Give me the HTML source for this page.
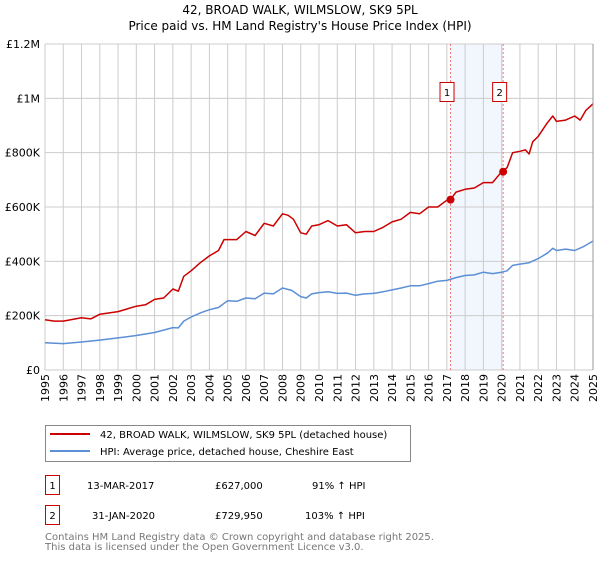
<!DOCTYPE html>
<html><head><meta charset="utf-8"><style>
body{margin:0;background:#fff;font-family:"Liberation Sans","DejaVu Sans",sans-serif;}
svg text{font-family:"DejaVu Sans","Liberation Sans",sans-serif;}
</style></head><body>
<svg id="chart" width="600" height="560" xmlns="http://www.w3.org/2000/svg">
<text x="300" y="14" text-anchor="middle" font-size="12">42, BROAD WALK, WILMSLOW, SK9 5PL</text>
<text x="300" y="30" text-anchor="middle" font-size="12">Price paid vs. HM Land Registry's House Price Index (HPI)</text>
<g id="grid"></g><g id="marks"></g><g id="axes"></g>
<rect x="45.5" y="425.5" width="365" height="36" fill="#fff" stroke="#888"/>
<line x1="50" y1="434" x2="90" y2="434" stroke="#cc0000" stroke-width="2"/>
<text x="100" y="438" font-size="10">42, BROAD WALK, WILMSLOW, SK9 5PL (detached house)</text>
<line x1="50" y1="451" x2="90" y2="451" stroke="#5b8fd6" stroke-width="2"/>
<text x="100" y="455" font-size="10">HPI: Average price, detached house, Cheshire East</text>
<g font-size="10">
<rect x="45.5" y="475.5" width="14" height="19" fill="#fff" stroke="#cc0000"/>
<text x="52.5" y="489" text-anchor="middle">1</text>
<text x="87" y="489">13-MAR-2017</text><text x="215" y="489">£627,000</text><text x="312" y="489">91% ↑ HPI</text></g>
<g font-size="10">
<rect x="45.5" y="505.5" width="14" height="19" fill="#fff" stroke="#cc0000"/>
<text x="52.5" y="519" text-anchor="middle">2</text>
<text x="92" y="519">31-JAN-2020</text><text x="215" y="519">£729,950</text><text x="305" y="519">103% ↑ HPI</text></g>
<text x="45" y="540" font-size="10" fill="#777">Contains HM Land Registry data © Crown copyright and database right 2025.</text>
<text x="45" y="550" font-size="10" fill="#777">This data is licensed under the Open Government Licence v3.0.</text>
</svg>
<script>
const yTicks=[0,200000,400000,600000,800000,1000000,1200000];
const yTickLabels=["£0","£200K","£400K","£600K","£800K","£1M","£1.2M"];
const xYears=[1995,1996,1997,1998,1999,2000,2001,2002,2003,2004,2005,2006,2007,2008,2009,2010,2011,2012,2013,2014,2015,2016,2017,2018,2019,2020,2021,2022,2023,2024,2025];
const propT=[1995,1995.5,1996,1997,1997.5,1998,1999,2000,2000.5,2001,2001.5,2002,2002.3,2002.6,2003,2003.5,2004,2004.5,2004.8,2005,2005.5,2006,2006.5,2007,2007.5,2008,2008.3,2008.6,2009,2009.3,2009.6,2010,2010.5,2011,2011.5,2012,2012.5,2013,2013.5,2014,2014.5,2015,2015.5,2016,2016.5,2017,2017.2,2017.5,2018,2018.5,2019,2019.5,2020,2020.3,2020.6,2021,2021.3,2021.5,2021.7,2022,2022.5,2022.8,2023,2023.5,2024,2024.3,2024.6,2025];
const propV=[185,180,180,192,188,205,215,235,240,260,265,298,290,345,365,395,420,440,480,480,480,510,495,540,530,575,570,555,505,500,530,535,550,530,535,505,510,510,525,545,555,580,575,600,600,625,627,655,665,670,690,690,730,745,800,805,810,795,840,860,910,935,915,920,935,920,955,980];
const hpiT=[1995,1996,1997,1998,1999,2000,2001,2002,2002.3,2002.6,2003,2003.5,2004,2004.5,2005,2005.5,2006,2006.5,2007,2007.5,2008,2008.5,2009,2009.3,2009.6,2010,2010.5,2011,2011.5,2012,2012.5,2013,2013.5,2014,2014.5,2015,2015.5,2016,2016.5,2017,2017.5,2018,2018.5,2019,2019.5,2020,2020.3,2020.6,2021,2021.5,2022,2022.5,2022.8,2023,2023.5,2024,2024.5,2025];
const hpiV=[100,97,103,110,118,127,138,156,155,180,195,210,222,230,255,253,265,262,283,280,302,293,270,265,280,285,288,282,283,275,280,282,288,295,302,310,310,318,327,330,340,348,350,360,355,360,365,385,390,395,410,430,448,440,445,440,455,475];
const saleT=[2017.2,2020.08];
const saleV=[627000,729950];
const saleLabels=["1","2"];
const X=t=>45+(t-1995)*(548/30);
const Y=v=>370-v/1200000*326;
const NS="http://www.w3.org/2000/svg";
function mk(tag,attrs,parent){const e=document.createElementNS(NS,tag);for(const k in attrs)e.setAttribute(k,attrs[k]);parent.appendChild(e);return e;}
const grid=document.getElementById('grid'),marks=document.getElementById('marks'),axes=document.getElementById('axes');
const sh=mk('rect',{x:X(saleT[0]),y:44,width:X(saleT[1])-X(saleT[0]),height:326,fill:'#f2f6fd'},grid);


xYears.forEach(yr=>{const l=mk('line',{x1:X(yr),x2:X(yr),y1:44,y2:370,stroke:'#ccc','stroke-width':1},grid);


const t=mk('text',{transform:`translate(${X(yr)+4},374) rotate(-90)`,'text-anchor':'end','font-size':'11'},axes);t.textContent=yr;

});
yTicks.forEach((v,i)=>{const l=mk('line',{x1:45,x2:593,y1:Y(v),y2:Y(v),stroke:'#ccc','stroke-width':1},grid);


const t=mk('text',{x:40,y:Y(v)+4,'text-anchor':'end','font-size':'11'},axes);t.textContent=yTickLabels[i];

});
saleT.forEach((t,i)=>{const l=mk('line',{x1:X(t),x2:X(t),y1:44,y2:370,stroke:'#ee7777','stroke-dasharray':'2,2','stroke-width':1},marks);


const r=mk('rect',{x:X(t)-10.5,y:82.5,width:14,height:19,fill:'#fff',stroke:'#cc0000'},marks);


const tx=mk('text',{x:X(t)-3.5,y:96,'text-anchor':'middle','font-size':'10'},marks);tx.textContent=saleLabels[i];

});
function path(T,V,color,name){const d=T.map((t,i)=>(i?'L':'M')+X(t).toFixed(1)+','+Y(V[i]*1000).toFixed(1)).join('');
const p=mk('path',{d:d,fill:'none',stroke:color,'stroke-width':1.5,'stroke-linejoin':'round'},marks);

}
path(hpiT,hpiV,'#5b8fd6','hpi-line');
path(propT,propV,'#cc0000','property-price-line');
saleT.forEach((t,i)=>{const c=mk('circle',{cx:X(t),cy:Y(saleV[i]),r:4,fill:'#cc0000'},marks);

});
const ax=mk('line',{x1:593,x2:593,y1:44,y2:370,stroke:'#999'},axes);


</script>
</body></html>
